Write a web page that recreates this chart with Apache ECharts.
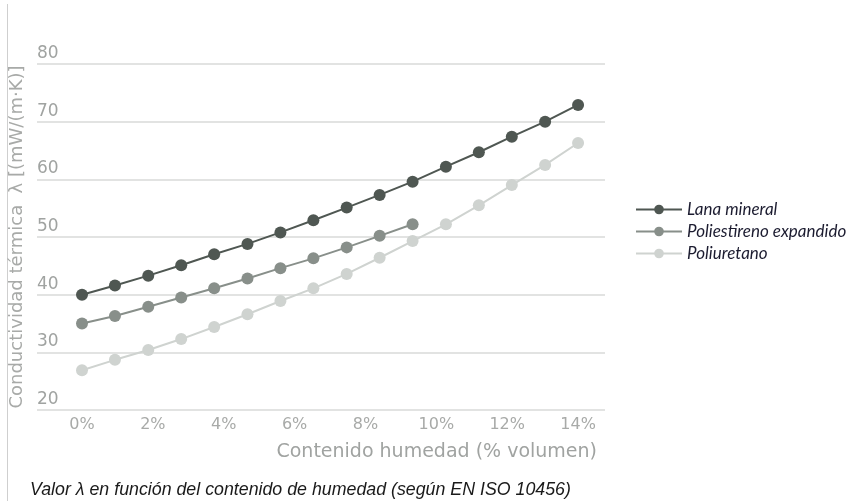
<!DOCTYPE html>
<html>
<head>
<meta charset="utf-8">
<script src="https://cdn.jsdelivr.net/npm/echarts@6/dist/echarts.min.js"></script>
<style>
  html, body { margin: 0; padding: 0; background: #fff; }
  #chart { width: 851px; height: 501px; }
</style>
</head>
<body>
<div id="chart"></div>
<script>
// humedad (% volumen)
const humedad = [0, 0.93, 1.87, 2.8, 3.73, 4.67, 5.6, 6.53, 7.47, 8.4, 9.33, 10.27, 11.2, 12.13, 13.07, 14]
const xTicks = [0, 2, 4, 6, 8, 10, 12, 14]

const lanaMineral = [40.0, 41.6, 43.3, 45.1, 47.0, 48.8, 50.8, 52.9, 55.1, 57.3, 59.6, 62.2, 64.7, 67.4, 70.0, 72.9]
const poliestireno = [35.0, 36.3, 37.9, 39.5, 41.1, 42.8, 44.6, 46.3, 48.2, 50.2, 52.2]
const poliuretano = [26.9, 28.7, 30.4, 32.3, 34.4, 36.6, 38.9, 41.1, 43.6, 46.4, 49.3, 52.2, 55.5, 59.0, 62.5, 66.3]

const nombres = ['Lana mineral', 'Poliestireno expandido', 'Poliuretano']
const colores = ['#4f5752', '#888f8a', '#cfd3d0']

function pares(vals) {
  return vals.map((v, i) => [humedad[i], v])
}

const chart = echarts.init(document.getElementById('chart'))

const option = {
  animation: false,
  grid: {
    left: 37,
    right: 246,
    top: 64,
    bottom: 91
  },
  xAxis: {
    type: 'value',
    min: -1.27,
    max: 14.76,
    axisLine: { show: false },
    axisTick: { show: false },
    splitLine: { show: false },
    axisLabel: {
      customValues: xTicks,
      formatter: v => v + '%',
      color: '#a8aaa8',
      fontSize: 16,
      fontFamily: 'DejaVu Sans',
      margin: 7
    },
    name: 'Contenido humedad (% volumen)',
    nameLocation: 'end',
    nameGap: 0,
    nameTextStyle: {
      color: '#a0a3a1',
      fontSize: 19,
      fontFamily: 'DejaVu Sans',
      align: 'right',
      verticalAlign: 'top',
      padding: [33, 8, 0, 0]
    }
  },
  yAxis: {
    type: 'value',
    min: 20,
    max: 80,
    interval: 10,
    axisLine: { show: false },
    axisTick: { show: false },
    splitLine: {
      show: true,
      lineStyle: { color: '#d9dad9', width: 1.5 }
    },
    axisLabel: {
      inside: true,
      verticalAlign: 'bottom',
      margin: 0,
      padding: [0, 0, 2, 0],
      color: '#a0a3a1',
      fontSize: 17,
      fontFamily: 'DejaVu Sans'
    },
    name: 'Conductividad térmica  λ [(mW/(m·K)]',
    nameLocation: 'middle',
    nameGap: 11,
    nameRotate: 90,
    nameTextStyle: {
      color: '#a8aaa8',
      fontSize: 18,
      fontFamily: 'DejaVu Sans'
    }
  },
  legend: {
    orient: 'vertical',
    left: 630,
    top: 196,
    itemWidth: 46,
    itemHeight: 12,
    itemGap: 5,
    data: nombres,
    textStyle: {
      color: '#1c1c30',
      fontSize: 17,
      fontStyle: 'italic',
      fontFamily: 'Lato'
    }
  },
  series: [
    { data: pares(lanaMineral) },
    { data: pares(poliestireno) },
    { data: pares(poliuretano) }
  ].map((s, i) => ({
    type: 'line',
    name: nombres[i],
    data: s.data,
    symbol: 'circle',
    symbolSize: 12,
    z: 10 - i,
    itemStyle: { color: colores[i] },
    lineStyle: { color: colores[i], width: 2 }
  })),
  graphic: [
    {
      type: 'line',
      shape: { x1: 7.5, y1: 4, x2: 7.5, y2: 501 },
      style: { stroke: '#cfcfcf', lineWidth: 1 }
    },
    {
      type: 'text',
      left: 30,
      top: 481,
      style: {
        text: 'Valor λ en función del contenido de humedad (según EN ISO 10456)',
        fill: '#1a1a1a',
        font: 'italic 17.8px "Liberation Sans Narrow", "Liberation Sans", sans-serif'
      }
    }
  ]
}

chart.setOption(option)
</script>
</body>
</html>
